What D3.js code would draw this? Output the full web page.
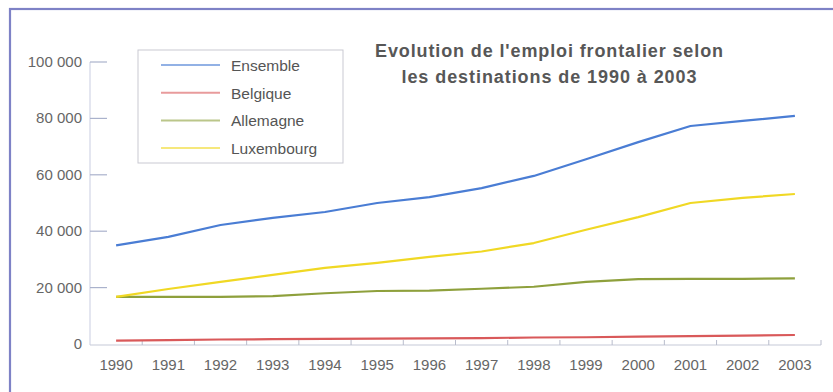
<!DOCTYPE html>
<html>
<head>
<meta charset="utf-8">
<script src="https://cdn.jsdelivr.net/npm/d3@7"></script>
<style>
  html, body { margin: 0; padding: 0; background: #fff; }
  svg { display: block; font-family: "Liberation Sans", Arial, sans-serif; }
</style>
</head>
<body>
<svg id="chart" width="833" height="392"></svg>
<script>
// Frontier employment by destination, 1990–2003
const years = ["1990","1991","1992","1993","1994","1995","1996","1997","1998","1999","2000","2001","2002","2003"];
const ensemble   = [35000, 38000, 42200, 44700, 46800, 50000, 52100, 55300, 59600, 65500, 71600, 77300, 79100, 80900];
const belgique   = [1200, 1400, 1600, 1700, 1800, 1900, 2000, 2100, 2300, 2400, 2600, 2800, 3000, 3200];
const allemagne  = [16700, 16700, 16700, 17000, 18000, 18800, 18900, 19600, 20300, 22000, 23000, 23100, 23100, 23300];
const luxembourg = [16700, 19500, 22000, 24500, 27000, 28800, 30900, 32800, 35800, 40500, 45000, 50000, 51800, 53200];
const yTicks = [0, 20000, 40000, 60000, 80000, 100000];
const seriesNames  = ["Ensemble", "Belgique", "Allemagne", "Luxembourg"];
const seriesColors = ["#4a7dd4", "#d9595a", "#8ea03c", "#f0d824"];
const titleLines = ["Evolution de l'emploi frontalier selon", "les destinations de 1990 à 2003"];

const series = [ensemble, belgique, allemagne, luxembourg].map((values, i) => ({
  name: seriesNames[i], color: seriesColors[i], values
}));

const svg = d3.select("#chart");

// outer frame
svg.append("rect")
  .attr("x", 10).attr("y", 9).attr("width", 900).attr("height", 500)
  .attr("fill", "none").attr("stroke", "#7e82c6").attr("stroke-width", 2.2);

const x = d3.scaleBand().domain(years).range([90, 821]).padding(0);
const y = d3.scaleLinear().domain([0, 100000]).range([344, 62]);
const cx = d => x(d) + x.bandwidth() / 2;
const fmt = v => d3.format(",")(v).replace(/,/g, " ");

// y axis
const gy = svg.append("g");
gy.append("line")
  .attr("x1", 90).attr("x2", 90).attr("y1", y(100000)).attr("y2", 345)
  .attr("stroke", "#d2d6e6").attr("stroke-width", 1.2);
gy.selectAll("line.tick").data(yTicks.filter(d => d > 0)).join("line")
  .attr("class", "tick")
  .attr("x1", 90).attr("x2", 107)
  .attr("y1", d => y(d)).attr("y2", d => y(d))
  .attr("stroke", "#aab2cc").attr("stroke-width", 1.2);
gy.selectAll("text").data(yTicks).join("text")
  .attr("x", 82).attr("y", d => y(d) + 5)
  .attr("text-anchor", "end")
  .attr("font-size", 15).attr("fill", "#666")
  .text(fmt);

// x axis
const gx = svg.append("g");
gx.append("line")
  .attr("x1", 90).attr("x2", 821).attr("y1", 345).attr("y2", 345)
  .attr("stroke", "#c6cad8").attr("stroke-width", 1.2);
gx.selectAll("line.tick").data(years).join("line")
  .attr("class", "tick")
  .attr("x1", d => x(d) + x.bandwidth()).attr("x2", d => x(d) + x.bandwidth())
  .attr("y1", 345).attr("y2", 340)
  .attr("stroke", "#b8bccc").attr("stroke-width", 1);
gx.selectAll("text").data(years).join("text")
  .attr("x", d => cx(d)).attr("y", 370)
  .attr("text-anchor", "middle")
  .attr("font-size", 15).attr("fill", "#666")
  .text(d => d);

// series lines
const line = d3.line()
  .x((d, i) => cx(years[i]))
  .y(d => y(d));

svg.append("g").selectAll("path").data(series).join("path")
  .attr("d", d => line(d.values))
  .attr("fill", "none")
  .attr("stroke", d => d.color)
  .attr("stroke-width", 2.2)
  .attr("stroke-linejoin", "round");

// legend
const lg = svg.append("g");
lg.append("rect")
  .attr("x", 138).attr("y", 50).attr("width", 205).attr("height", 113)
  .attr("fill", "#fff").attr("stroke", "#c9c9d2").attr("stroke-width", 1);
const items = lg.selectAll("g.item").data(series).join("g")
  .attr("class", "item")
  .attr("transform", (d, i) => `translate(0, ${65 + i * 27.7})`);
items.append("line")
  .attr("x1", 161).attr("x2", 220).attr("y1", 0).attr("y2", 0)
  .attr("stroke", d => d.color).attr("stroke-opacity", 0.6).attr("stroke-width", 2);
items.append("text")
  .attr("x", 231).attr("y", 6)
  .attr("font-size", 15.5).attr("fill", "#555")
  .text(d => d.name);

// title
svg.append("g").selectAll("text").data(titleLines).join("text")
  .attr("x", 549).attr("y", (d, i) => 57 + i * 25.5)
  .attr("text-anchor", "middle")
  .attr("font-size", 18).attr("font-weight", "bold").attr("fill", "#575757")
  .attr("textLength", (d, i) => i === 0 ? 348 : 295)
  .attr("lengthAdjust", "spacing")
  .text(d => d);
</script>
</body>
</html>
